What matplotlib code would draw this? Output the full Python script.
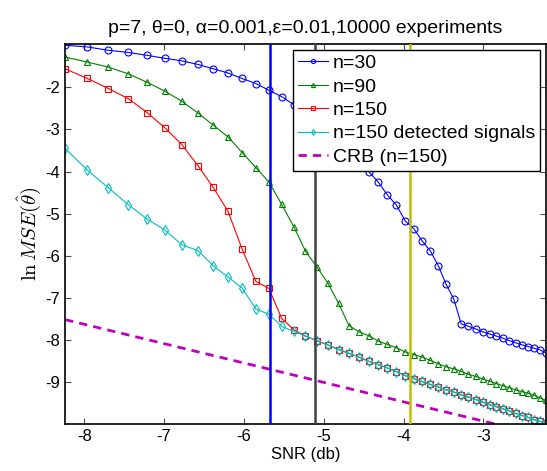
import numpy as np
import matplotlib
matplotlib.use('Agg')
import matplotlib.pyplot as plt

plt.rcParams['font.family'] = ['Liberation Sans', 'DejaVu Sans']
plt.rcParams['mathtext.fontset'] = 'cm'
plt.rcParams['axes.unicode_minus'] = False

# SNR grid (dB), linear SNR 0.15 ... 0.60 step 0.01
snr_db = [-8.239, -7.959, -7.696, -7.447, -7.212, -6.990, -6.778, -6.576, -6.383, -6.198,
          -6.021, -5.850, -5.686, -5.528, -5.376, -5.229, -5.086, -4.949, -4.815, -4.685,
          -4.559, -4.437, -4.318, -4.202, -4.089, -3.979, -3.872, -3.768, -3.665, -3.565,
          -3.468, -3.372, -3.279, -3.188, -3.098, -3.010, -2.924, -2.840, -2.757, -2.676,
          -2.596, -2.518, -2.441, -2.366, -2.291, -2.218]

mse_n30 = [-1.00, -1.04, -1.12, -1.17, -1.24, -1.31, -1.37, -1.455, -1.56, -1.66,
           -1.79, -1.91, -2.07, -2.22, -2.41, -2.60, -2.82, -3.04, -3.27, -3.50,
           -3.75, -4.00, -4.25, -4.56, -4.80, -5.18, -5.36, -5.65, -5.89, -6.24,
           -6.68, -7.03, -7.62, -7.68, -7.74, -7.81, -7.86, -7.91, -7.96, -8.02,
           -8.07, -8.12, -8.16, -8.20, -8.24, -8.31]

mse_n90 = [-1.28, -1.40, -1.52, -1.68, -1.88, -2.09, -2.33, -2.61, -2.90, -3.18,
           -3.55, -3.91, -4.25, -4.78, -5.31, -5.89, -6.27, -6.65, -7.13, -7.66,
           -7.81, -7.90, -8.03, -8.11, -8.19, -8.29, -8.35, -8.41, -8.49, -8.57,
           -8.64, -8.69, -8.75, -8.82, -8.87, -8.93, -8.98, -9.04, -9.09, -9.14,
           -9.19, -9.23, -9.27, -9.32, -9.38, -9.44]

mse_n150 = [-1.56, -1.79, -2.03, -2.27, -2.60, -2.96, -3.36, -3.86, -4.38, -4.95,
            -5.85, -6.61, -6.78, -7.49, -7.76, -7.91, -8.02, -8.12, -8.23, -8.32,
            -8.41, -8.51, -8.59, -8.67, -8.76, -8.85, -8.92, -8.99, -9.06, -9.12,
            -9.19, -9.24, -9.31, -9.36, -9.42, -9.48, -9.54, -9.59, -9.64, -9.69,
            -9.75, -9.80, -9.84, -9.90, -9.94, -9.97]

mse_n150_det = [-3.45, -3.97, -4.39, -4.79, -5.13, -5.39, -5.74, -5.88, -6.24, -6.51,
                -6.77, -7.27, -7.39, -7.68, -7.80, -7.91, -8.02, -8.12, -8.23, -8.32,
                -8.41, -8.51, -8.59, -8.67, -8.76, -8.85, -8.92, -8.99, -9.06, -9.12,
                -9.19, -9.24, -9.31, -9.36, -9.42, -9.48, -9.54, -9.59, -9.64, -9.69,
                -9.75, -9.80, -9.84, -9.90, -9.94, -9.97]

# CRB (n=150), straight line in dB
crb_snr = [-8.239, -5.675, -3.90, -2.218]
crb = [-7.52, -8.70, -9.52, -10.29]

# vertical marker lines
vline_x = [-5.675, -5.11, -3.925]
vline_colors = [(0, 0, 1), (0.25, 0.25, 0.25), (0.75, 0.75, 0)]

fig = plt.figure(figsize=(5.47, 4.71), dpi=100)
ax = fig.add_axes([0.119, 0.0998, 0.879, 0.8068])

ms = 5
ax.plot(snr_db, mse_n30, '-o', color=(0, 0, 1), lw=0.8, ms=ms, mfc='none', mew=0.8, label='n=30')
ax.plot(snr_db, mse_n90, '-^', color=(0, 0.5, 0), lw=0.8, ms=ms, mfc='none', mew=0.8, label='n=90')
ax.plot(snr_db, mse_n150, '-s', color=(1, 0, 0), lw=0.8, ms=ms - 0.5, mfc='none', mew=0.8, label='n=150')
ax.plot(snr_db, mse_n150_det, '-d', color=(0, 0.75, 0.75), lw=0.8, ms=ms, mfc='none', mew=0.8,
        label='n=150 detected signals')
ax.plot(crb_snr, crb, color=(0.75, 0, 0.75), lw=2, linestyle=(0, (3, 2.2)), label='CRB (n=150)')

for xv, c in zip(vline_x, vline_colors):
    ax.axvline(xv, color=c, lw=1.8, zorder=3)

ax.set_xlim(-8.239, -2.218)
ax.set_ylim(-10, -0.97)
ax.set_xticks([-8, -7, -6, -5, -4, -3])
ax.set_yticks([-9, -8, -7, -6, -5, -4, -3, -2])
ax.tick_params(direction='in', top=True, right=True, labelsize=12, length=4, color='0.3')
for s in ax.spines.values():
    s.set_linewidth(1.2)

ax.set_title('p=7, θ=0, α=0.001,ε=0.01,10000 experiments', fontsize=14, pad=8)
ax.set_xlabel('SNR (db)', fontsize=12, labelpad=2)
ax.set_ylabel(r'$\ln MSE(\hat{\theta})$', fontsize=15, labelpad=2)

leg = ax.legend(loc='upper right', bbox_to_anchor=(0.988, 0.985), fontsize=14, frameon=True,
                fancybox=False, edgecolor='black', framealpha=1, borderpad=0.25, borderaxespad=0,
                labelspacing=0.3, handlelength=1.55, handletextpad=0.25, markerscale=0.6)
leg.get_frame().set_linewidth(1.0)
leg.set_zorder(10)

fig.savefig('out.png', dpi=100)
